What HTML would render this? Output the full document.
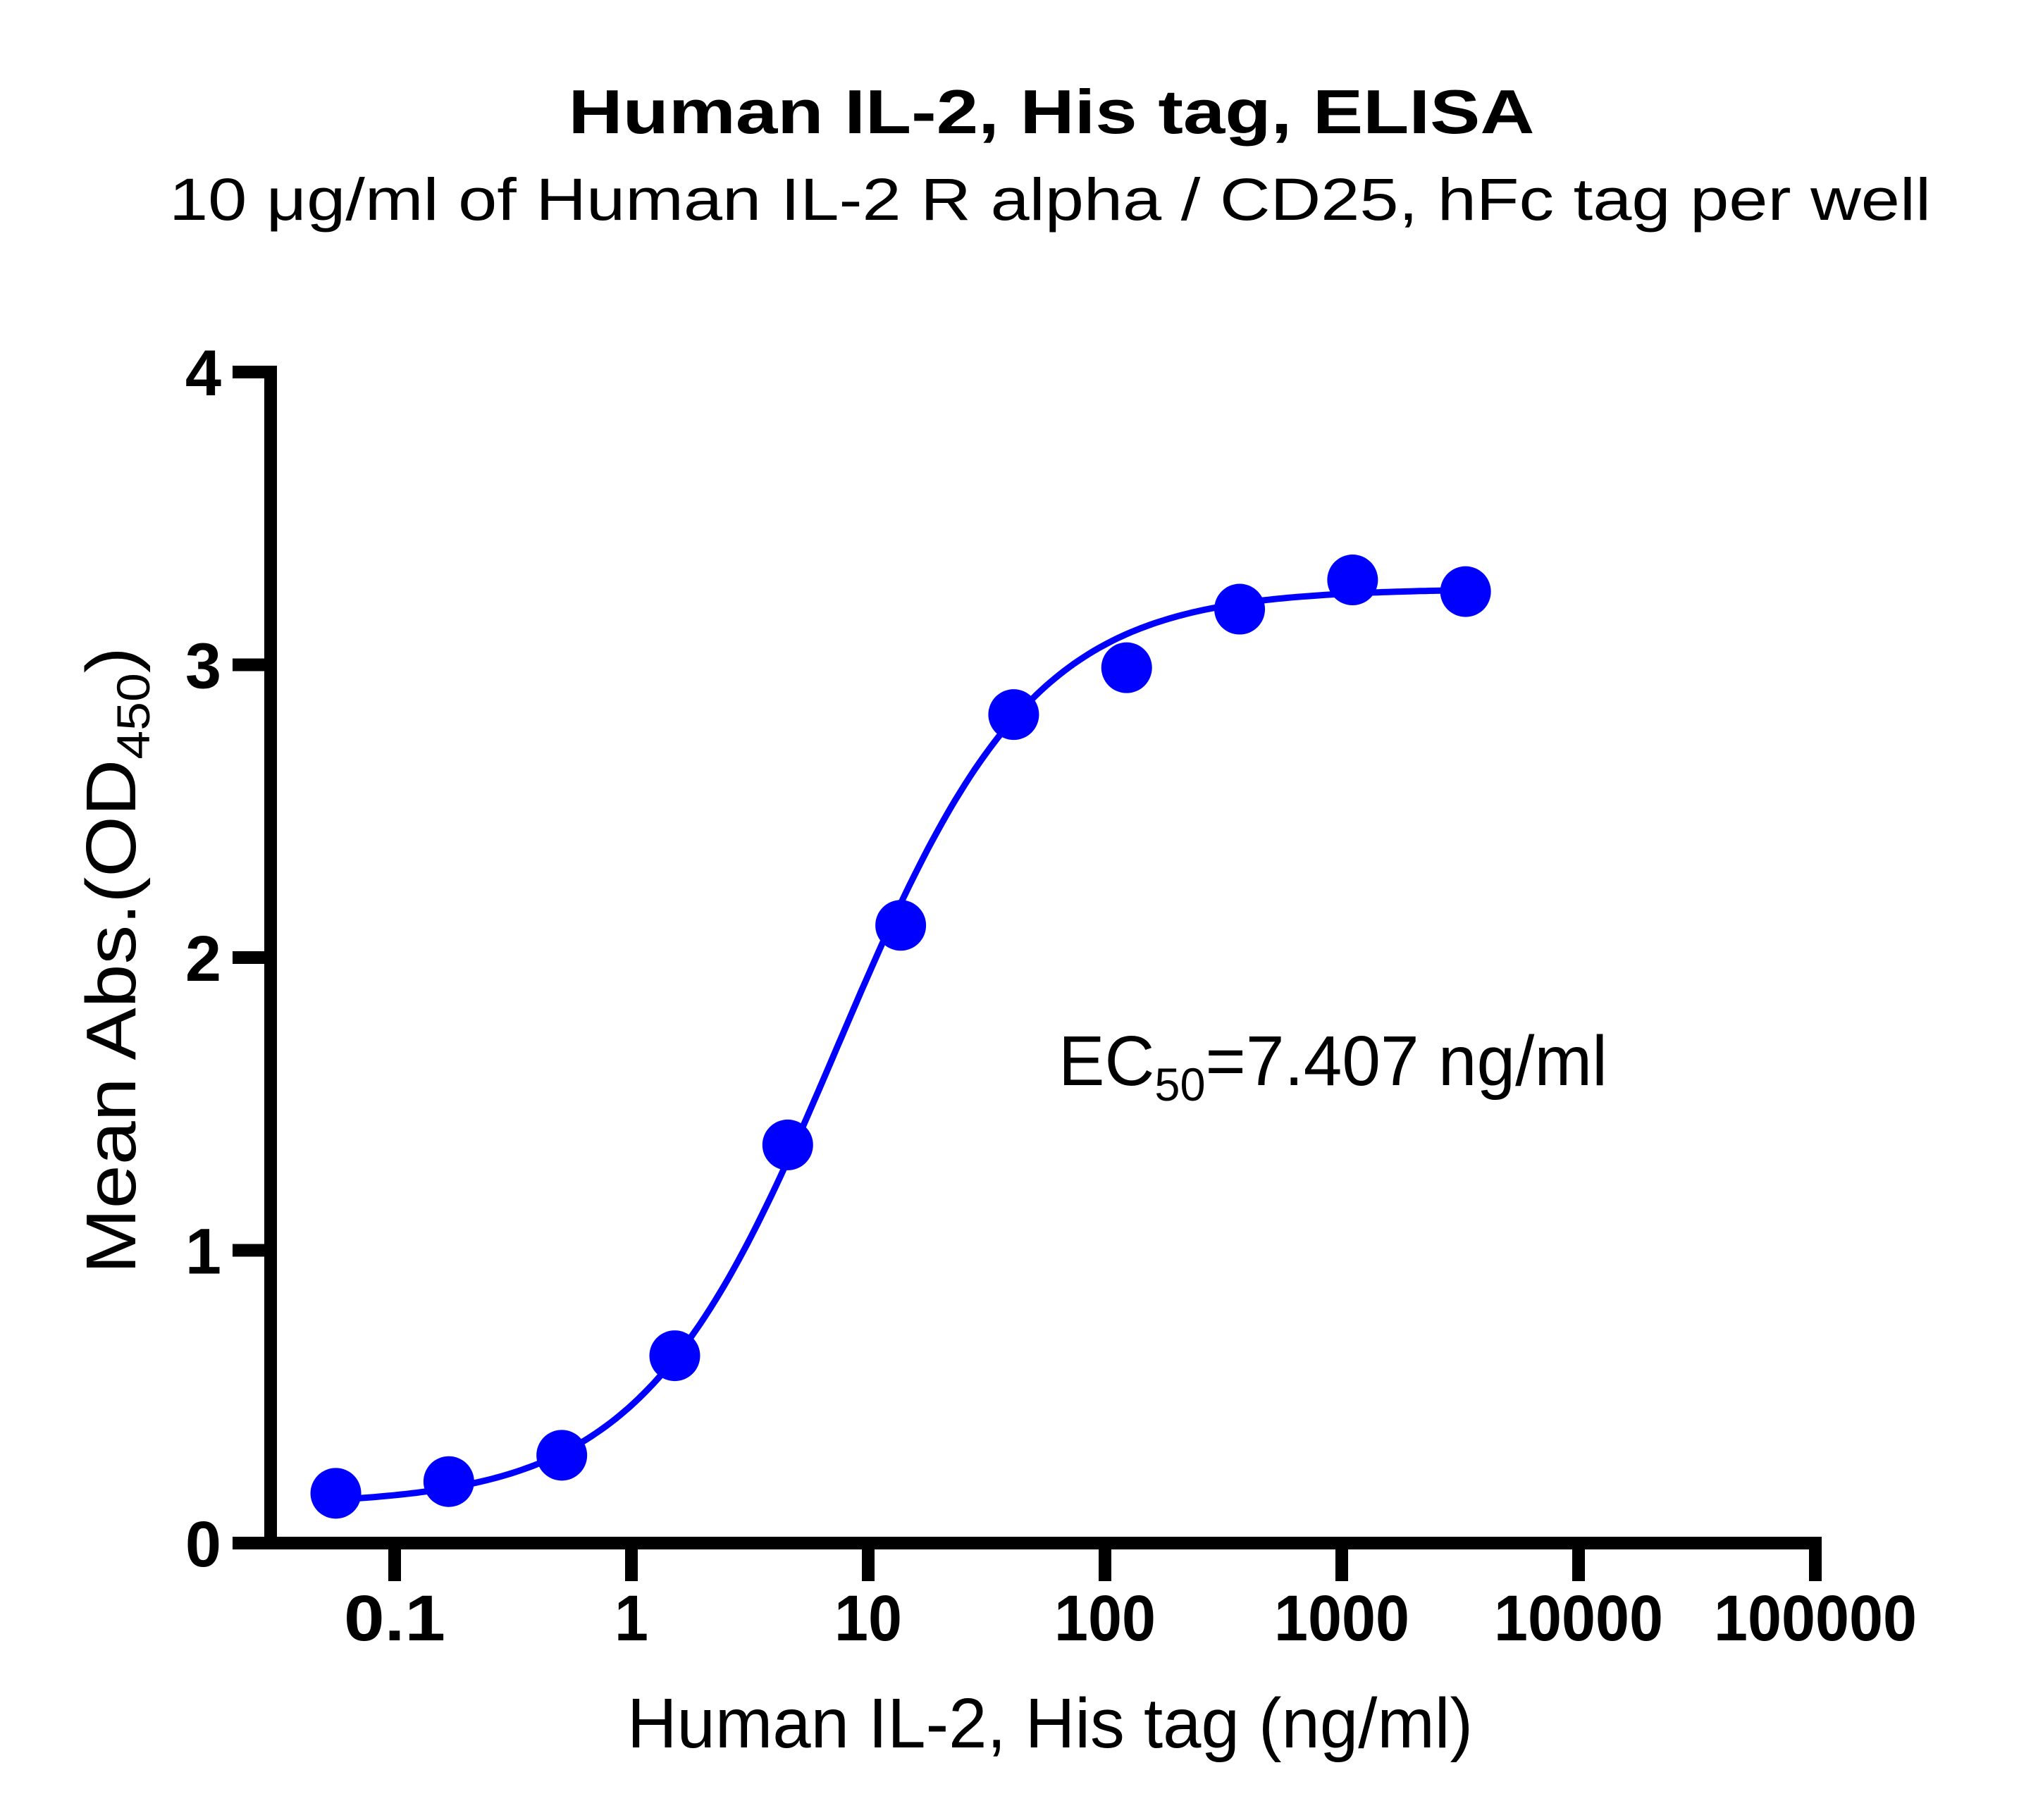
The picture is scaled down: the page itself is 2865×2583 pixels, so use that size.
<!DOCTYPE html>
<html><head><meta charset="utf-8"><style>
html,body{margin:0;padding:0;background:#fff;}
svg{display:block;}
text{font-family:"Liberation Sans",Arial,sans-serif;fill:#000;}
</style></head><body>
<svg id="s" width="2865" height="2583" viewBox="0 0 2865 2583" xmlns="http://www.w3.org/2000/svg">
<rect width="2865" height="2583" fill="#fff"/>
<text x="1492" y="189" font-size="88" font-weight="bold" text-anchor="middle" textLength="1371" lengthAdjust="spacingAndGlyphs">Human IL-2, His tag, ELISA</text>
<text x="1490" y="312" font-size="84" text-anchor="middle" textLength="2500" lengthAdjust="spacingAndGlyphs">10 μg/ml of Human IL-2 R alpha / CD25, hFc tag per well</text>
<rect x="375" y="519" width="18" height="1680" fill="#000"/>
<rect x="330" y="2181" width="2255" height="18" fill="#000"/>
<g id="yt"></g>
<g id="xt"></g>
<text x="1490" y="2480" font-size="100" text-anchor="middle" textLength="1200" lengthAdjust="spacingAndGlyphs">Human IL-2, His tag (ng/ml)</text>
<text transform="translate(192,1363) rotate(-90)" font-size="100" text-anchor="middle" textLength="890" lengthAdjust="spacingAndGlyphs">Mean Abs.(OD<tspan font-size="66" dy="20">450</tspan><tspan dy="-20">)</tspan></text>
<text x="1502" y="1540" font-size="100" textLength="779" lengthAdjust="spacingAndGlyphs">EC<tspan font-size="66" dy="22">50</tspan><tspan dy="-22">=7.407 ng/ml</tspan></text>
<path id="curve" fill="none" stroke="#0000ff" stroke-width="9"/>
<g id="pts" fill="#0000ff"></g>
</svg>
<script>
var NS="http://www.w3.org/2000/svg";
function X(c){return 896+336*Math.log10(c);}
function Y(v){return 2190-415.5*v;}
function el(p,t,a,txt){var e=document.createElementNS(NS,t);for(var k in a)e.setAttribute(k,a[k]);if(txt!=null)e.textContent=txt;document.getElementById(p).appendChild(e);return e;}
for(var v=0;v<=4;v++){var y=Y(v);el('yt','rect',{x:330,y:y-9,width:63,height:18,fill:'#000'});
el('yt','text',{x:314,y:y+33,'font-size':92,'font-weight':'bold','text-anchor':'end'},String(v));}
var labs=['0.1','1','10','100','1000','10000','100000'];
for(var i=0;i<7;i++){var x=X(Math.pow(10,i-1));el('xt','rect',{x:x-9,y:2181,width:18,height:63,fill:'#000'});
el('xt','text',{x:x,y:2328,'font-size':92,'font-weight':'bold','text-anchor':'middle',textLength:labs[i].length*48,lengthAdjust:'spacingAndGlyphs'},labs[i]);}
var vals=[0.17,0.21,0.30,0.64,1.36,2.11,2.83,2.99,3.19,3.29,3.25];
var b=0.13,t=3.26,ec=7.407,h=1.05;
var d='';
for(var lc=Math.log10(0.0564);lc<=Math.log10(3333)+0.001;lc+=0.02){var c=Math.pow(10,lc);var v=b+(t-b)/(1+Math.pow(ec/c,h));d+=(d?'L':'M')+X(c).toFixed(1)+','+Y(v).toFixed(1);}
document.getElementById('curve').setAttribute('d',d);
for(var i=0;i<11;i++){var c=3333/Math.pow(3,10-i);el('pts','circle',{cx:X(c),cy:Y(vals[i]),r:36});}
</script>
</body></html>
